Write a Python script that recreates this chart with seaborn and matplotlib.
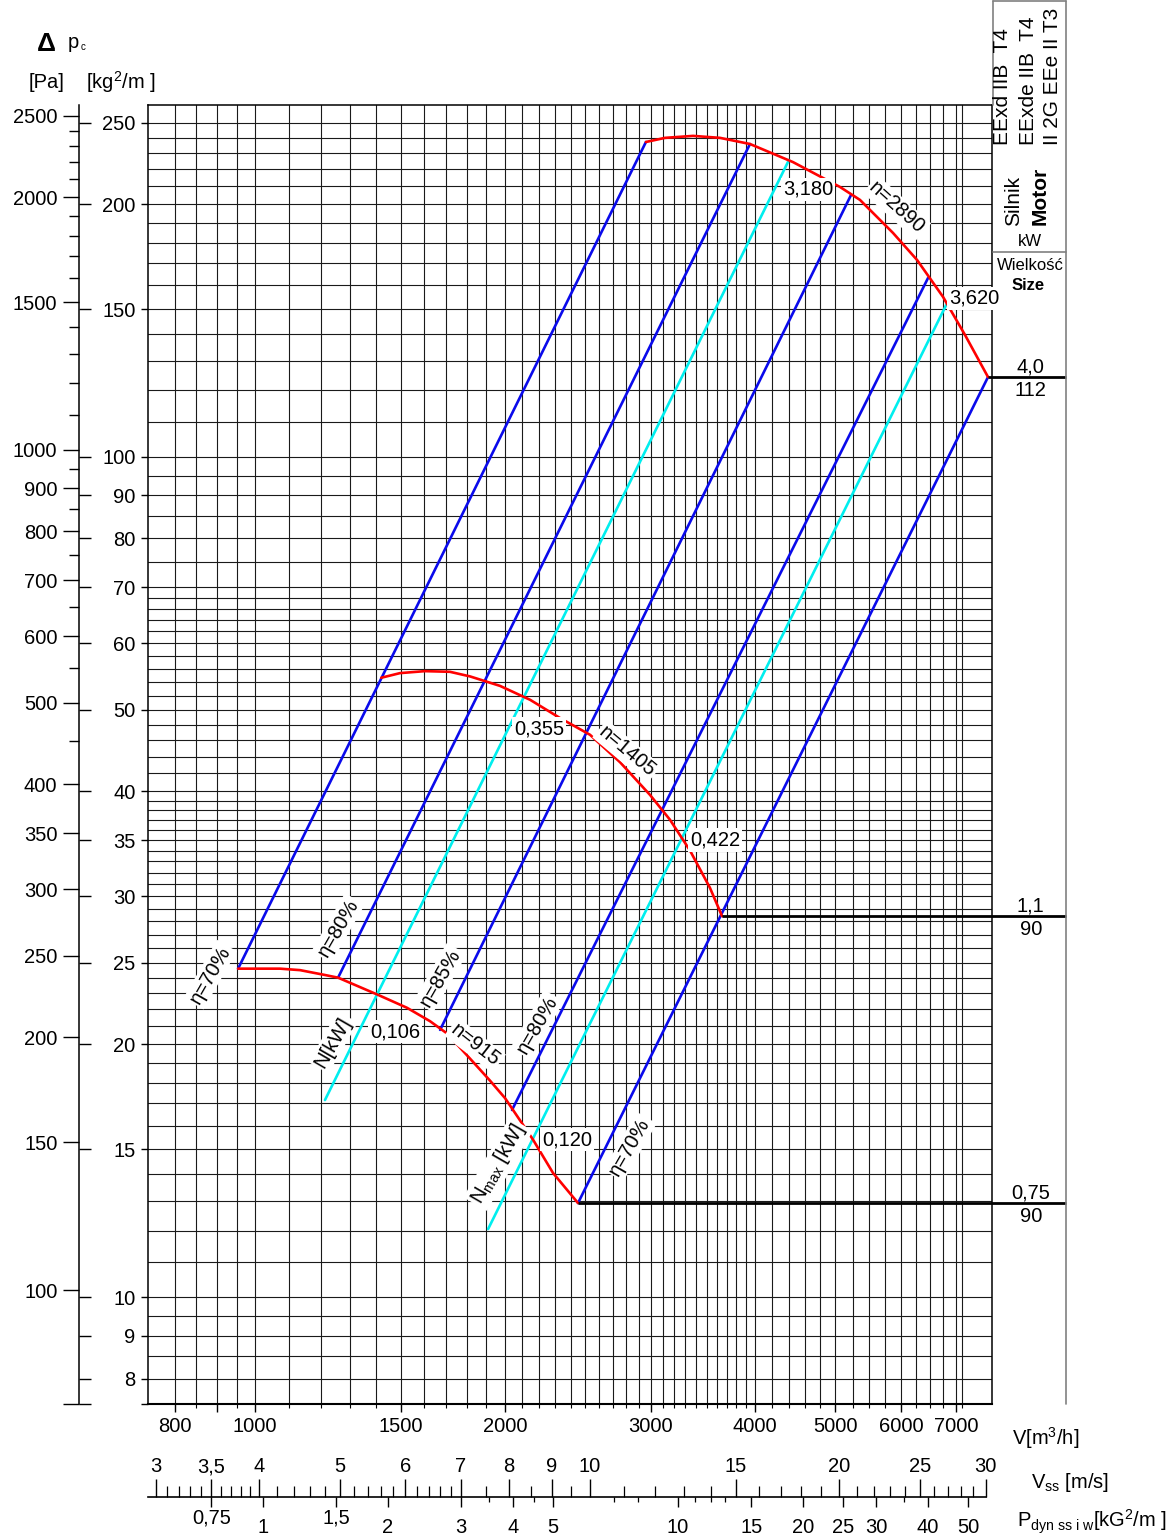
import matplotlib
matplotlib.use('Agg')
import matplotlib.pyplot as plt
import matplotlib.ticker as mticker
import matplotlib.transforms as mtransforms
from matplotlib.lines import Line2D
import seaborn as sns
import numpy as np

# fan curves: flow V [m3/h] vs pressure [kg/m2]
n915_v = [954, 1072, 1133, 1208, 1259, 1406, 1524, 1625, 1703, 1831, 1919, 2001, 2162, 2286, 2450]
n915_p = [24.6, 24.6, 24.5, 24.2, 24.0, 22.9, 22.1, 21.3, 20.6, 19.05, 18.1, 17.25, 15.4, 14.05, 12.94]
n1405_v = [1419, 1495, 1602, 1717, 1816, 1973, 2145, 2330, 2533, 2754, 2992, 3162, 3343, 3533, 3654]
n1405_p = [54.6, 55.3, 55.6, 55.5, 54.8, 53.4, 51.4, 48.9, 46.7, 43.3, 39.6, 37.0, 34.0, 30.7, 28.4]
n2890_v = [2958, 3119, 3371, 3633, 3948, 4448, 5068, 5357, 5871, 6276, 6745, 7170, 7642]
n2890_p = [237.1, 239.8, 241.1, 239.8, 235.8, 224.4, 209.6, 202.3, 184.8, 171.6, 155.1, 139.7, 124.5]

# efficiency lines (start / end points)
eta_v0 = [954, 1259, 1671, 2040, 2450]
eta_p0 = [24.6, 24.0, 20.8, 16.7, 12.94]
eta_v1 = [2958, 3948, 5225, 6470, 7642]
eta_p1 = [237.1, 235.8, 205.0, 163.3, 124.5]

# power lines N[kW], Nmax[kW]
pow_v0 = [1214, 1909]
pow_p0 = [17.16, 12.05]
pow_v1 = [4399, 6823]
pow_p1 = [225.7, 152.5]

# motors
motor_kw = ['4,0', '1,1', '0,75']
motor_size = ['112', '90', '90']
motor_v = [7642, 3654, 2450]
motor_p = [124.5, 28.4, 12.94]

# labels on the chart
ann_text = ['3,180', 'n=2890', '3,620', '0,355', 'n=1405', '0,422', 'η=70%', 'η=80%',
            'N[kW]', '0,106', 'η=85%', 'n=915', 'η=80%', '0,120', r'N$_{\rm max}$ [kW]', 'η=70%']
ann_v = [4638, 5935, 7349, 2199, 2807, 3583, 883, 1259, 1242, 1475, 1671, 1841, 2187, 2376, 1963, 2830]
ann_p = [208.4, 197.9, 154.6, 47.5, 44.6, 35.0, 24.2, 27.5, 20.1, 20.7, 24.0, 19.95, 21.1, 15.4, 14.4, 15.1]
ann_rot = [0, -42, 0, 0, -40, 0, 60, 60, 60, 0, 60, -38, 60, 0, 60, 60]

# axes scales
v_major = [800, 900, 1000, 1500, 2000, 3000, 4000, 5000, 6000, 7000]
v_major_lbl = ['800', '', '1000', '1500', '2000', '3000', '4000', '5000', '6000', '7000']
v_grid = ([800, 850, 900, 950] + list(range(1000, 4001, 100)) + [4200, 4400, 4600, 4800]
          + [5000, 5250, 5500, 5750, 6000, 6250, 6500, 6750, 7000, 7100])
kg_major = [8, 9, 10, 15, 20, 25, 30, 35, 40, 50, 60, 70, 80, 90, 100, 150, 200, 250]
kg_grid = ([8, 8.5, 9, 9.5] + list(range(10, 41)) + list(range(42, 71, 2))
           + [75, 80, 85, 90, 95] + list(range(100, 251, 10)))
pa_major = [100, 150, 200, 250, 300, 350, 400, 500, 600, 700, 800, 900, 1000, 1500, 2000, 2500]
pa_minor = [450, 550, 650, 750, 850, 950, 1100, 1200, 1300, 1400, 1600, 1700, 1800, 1900,
            2100, 2200, 2300, 2400]
PA_PER_KG = 9.81

vss_major = [3, 3.5, 4, 5, 6, 7, 8, 9, 10, 15, 20, 25, 30]
vss_lbl = ['3', '3,5', '4', '5', '6', '7', '8', '9', '10', '15', '20', '25', '30']
vss_minor = [3.1, 3.2, 3.3, 3.4, 3.6, 3.7, 3.8, 3.9, 4.2, 4.4, 4.6, 4.8, 5.2, 5.4, 5.6, 5.8,
             6.2, 6.4, 6.6, 6.8, 7.5, 8.5, 9.5, 11, 12, 13, 14, 16, 17, 18, 19, 21, 22, 23, 24,
             26, 27, 28, 29]
pd_major = [0.75, 1, 1.5, 2, 3, 4, 5, 10, 15, 20, 25, 30, 40, 50]
pd_lbl = ['0,75', '1', '1,5', '2', '3', '4', '5', '10', '15', '20', '25', '30', '40', '50']
pd_minor = [3.5, 4.5, 7, 8, 11, 12, 13, 35]
V_PER_MS = 253.0      # m3/h per m/s of outlet velocity
PD_PER_MS2 = 0.0612   # kG/m2 per (m/s)^2

sns.set_theme(style='ticks', rc={'text.color': 'black', 'axes.edgecolor': 'black',
                                 'xtick.color': 'black', 'ytick.color': 'black'})
plt.rcParams['font.family'] = ['Liberation Sans', 'DejaVu Sans']
plt.rcParams['mathtext.fontset'] = 'custom'
plt.rcParams['mathtext.rm'] = 'Liberation Sans'
plt.rcParams['mathtext.it'] = 'Liberation Sans:italic'
plt.rcParams['mathtext.bf'] = 'Liberation Sans:bold'

W, H = 1173, 1538
fig = plt.figure(figsize=(W / 100, H / 100), dpi=100)
fig.patch.set_facecolor('white')


def fx(px):
    return px / W


def fy(py):
    return 1 - py / H


xlim = (743, 7727)
ylim = (7.46, 262.4)
FS = 14.5
RED, BLUE, CYAN = '#ff0000', '#0a0aeb', '#00eeee'

ax = fig.add_axes([fx(148), fy(1404), fx(992) - fx(148), fy(105) - fy(1404)])
ax.set_xscale('log')
ax.set_yscale('log')

for v0, p0, v1, p1 in zip(eta_v0, eta_p0, eta_v1, eta_p1):
    sns.lineplot(x=[v0, v1], y=[p0, p1], ax=ax, color=BLUE, lw=1.9, sort=False, estimator=None, zorder=3)
for v0, p0, v1, p1 in zip(pow_v0, pow_p0, pow_v1, pow_p1):
    sns.lineplot(x=[v0, v1], y=[p0, p1], ax=ax, color=CYAN, lw=1.9, sort=False, estimator=None, zorder=3)
for vv, pp in [(n915_v, n915_p), (n1405_v, n1405_p), (n2890_v, n2890_p)]:
    sns.lineplot(x=vv, y=pp, ax=ax, color=RED, lw=1.9, sort=False, estimator=None, zorder=4)

ax.set_xlim(xlim)
ax.set_ylim(ylim)
ax.set_xlabel('')
ax.set_ylabel('')

ax.set_xticks(v_major, labels=v_major_lbl)
ax.set_xticks([v for v in v_grid if v not in v_major], minor=True)
ax.set_yticks(kg_major + [ylim[0]], labels=[str(k) for k in kg_major] + [''])
ax.set_yticks([k for k in kg_grid if k not in kg_major], minor=True)
ax.xaxis.set_minor_formatter(mticker.NullFormatter())
ax.yaxis.set_minor_formatter(mticker.NullFormatter())
ax.tick_params(axis='x', which='major', length=6, width=1, pad=3, labelsize=FS, bottom=True)
ax.tick_params(axis='x', which='minor', length=3, width=0.8, bottom=True)
ax.tick_params(axis='y', which='major', length=5, width=1, pad=4, labelsize=FS, left=True)
ax.tick_params(axis='y', which='minor', length=0)
ax.grid(True, which='both', color='#1a1a1a', lw=0.8)
ax.set_axisbelow(True)
for s in ax.spines.values():
    s.set_linewidth(1.1)
ax.spines['bottom'].set_linewidth(1.5)

# chart labels
for t, v, p, r in zip(ann_text, ann_v, ann_p, ann_rot):
    ax.text(v, p, t, rotation=r, ha='center', va='center', fontsize=FS, zorder=6,
            bbox=dict(facecolor='white', edgecolor='none', pad=1.5))

# motor lines and labels
tr = ax.get_yaxis_transform()
for kw, size, v, p in zip(motor_kw, motor_size, motor_v, motor_p):
    x0 = ax.transAxes.inverted().transform(ax.transData.transform((v, p)))[0]
    ax.plot([x0, 1.0877], [p, p], transform=tr, color='black', lw=2, clip_on=False,
            solid_capstyle='butt', zorder=5)
    ax.text(1.046, p, kw, transform=tr + mtransforms.ScaledTranslation(0, 0.05, fig.dpi_scale_trans),
            ha='center', va='baseline', fontsize=FS)
    ax.text(1.046, p, size, transform=tr + mtransforms.ScaledTranslation(0, -0.04, fig.dpi_scale_trans),
            ha='center', va='top', fontsize=FS)

# left pressure scales
rect_l = [fx(79), fy(1404), 0.00001, fy(105) - fy(1404)]
ax_pa = fig.add_axes(rect_l, label='pa')
ax_kg = fig.add_axes(rect_l, label='kg')
for a in (ax_pa, ax_kg):
    a.set_yscale('log')
    a.set_ylim(ylim)
    a.set_xticks([])
    a.patch.set_visible(False)
    for s in ['top', 'bottom', 'right', 'left']:
        a.spines[s].set_visible(False)
ax_pa.spines['left'].set_visible(True)
ax_pa.spines['left'].set_linewidth(1.1)
ax_pa.set_yticks([p / PA_PER_KG for p in pa_major] + [ylim[0]], labels=[str(p) for p in pa_major] + [''])
ax_pa.set_yticks([p / PA_PER_KG for p in pa_minor], minor=True)
ax_pa.yaxis.set_minor_formatter(mticker.NullFormatter())
ax_pa.tick_params(axis='y', which='major', left=True, length=11.5, width=1, pad=4, labelsize=FS)
ax_pa.tick_params(axis='y', which='minor', left=True, length=7, width=1)
ax_kg.yaxis.tick_right()
ax_kg.set_yticks(kg_major + [ylim[0]])
ax_kg.yaxis.set_minor_locator(mticker.NullLocator())
ax_kg.tick_params(axis='y', which='major', right=True, left=False, labelright=False, labelleft=False,
                  length=8.6, width=1)

# bottom velocity / dynamic pressure scales
rect_b = [fx(148), fy(1497), fx(992) - fx(148), 0.00001]
ax_vs = fig.add_axes(rect_b, label='vss')
ax_pd = fig.add_axes(rect_b, label='pdyn')
for a in (ax_vs, ax_pd):
    a.set_xscale('log')
    a.set_xlim(xlim)
    a.set_yticks([])
    a.patch.set_visible(False)
    for s in ['top', 'bottom', 'right', 'left']:
        a.spines[s].set_visible(False)
ax_vs.spines['top'].set_visible(True)
ax_vs.spines['top'].set_bounds(xlim[0], 30 * V_PER_MS)
ax_vs.spines['top'].set_linewidth(1.2)
ax_vs.xaxis.tick_top()
ax_vs.set_xticks([v * V_PER_MS for v in vss_major], labels=vss_lbl)
ax_vs.set_xticks([v * V_PER_MS for v in vss_minor], minor=True)
ax_vs.xaxis.set_minor_formatter(mticker.NullFormatter())
ax_vs.tick_params(axis='x', which='major', top=True, bottom=False, labeltop=True, labelbottom=False,
                  length=13, width=1, pad=2, labelsize=FS)
ax_vs.tick_params(axis='x', which='minor', top=True, bottom=False, length=8, width=0.9)

ax_pd.set_xticks([V_PER_MS * np.sqrt(p / PD_PER_MS2) for p in pd_major], labels=pd_lbl)
ax_pd.set_xticks([V_PER_MS * np.sqrt(p / PD_PER_MS2) for p in pd_minor], minor=True)
ax_pd.xaxis.set_minor_formatter(mticker.NullFormatter())
ax_pd.tick_params(axis='x', which='major', bottom=True, top=False, labelbottom=True, labeltop=False,
                  length=7.2, width=1, pad=8, labelsize=FS)
ax_pd.tick_params(axis='x', which='minor', bottom=True, top=False, length=3.6, width=0.9)
for lab in ax_pd.get_xticklabels():
    if ',' in lab.get_text():
        lab.set_transform(lab.get_transform() + mtransforms.ScaledTranslation(0, 0.1, fig.dpi_scale_trans))

# axis titles
fig.text(fx(46), fy(44), 'Δ', fontsize=19, fontweight='bold', ha='center', va='center')
fig.text(fx(73), fy(43), 'p', fontsize=FS, ha='center', va='center')
fig.text(fx(83), fy(47), 'c', fontsize=7, ha='center', va='center')
fig.text(fx(47), fy(82), '[Pa]', fontsize=FS, ha='center', va='center')
fig.text(fx(121), fy(82), '[kg$^{2}$/m ]', fontsize=FS, ha='center', va='center')
fig.text(fx(1046), fy(1438), 'V[m$^{3}$/h]', fontsize=FS, ha='center', va='center')
fig.text(fx(1070), fy(1483), r'V$_{\rm ss}$ [m/s]', fontsize=FS, ha='center', va='center')
fig.text(fx(1092), fy(1522), r'P$_{\rm dyn\ ss\ i\ w}$[kG$^{2}$/m ]', fontsize=FS, ha='center', va='center')

# motor table frame
frame = [([993, 993], [1, 105]), ([993, 1066], [1, 1]), ([1066, 1066], [1, 1404]),
         ([993, 1066], [252, 252])]
for xs, ys in frame:
    fig.add_artist(Line2D([fx(x) for x in xs], [fy(y) for y in ys], color='#808080', lw=1.2))
for x, t in [(1003, 'EExd IIB  T4'), (1028, 'EExde IIB  T4'), (1053, 'II 2G EEe II T3')]:
    fig.text(fx(x), fy(145), t, rotation=90, fontsize=15, ha='center', va='bottom')
fig.text(fx(1014), fy(201), 'Silnik', rotation=90, fontsize=15, ha='center', va='center')
fig.text(fx(1040), fy(196), 'Motor', rotation=90, fontsize=15, fontweight='bold', ha='center', va='center')
fig.text(fx(1030), fy(242), 'kW', fontsize=12, ha='center', va='center')
fig.text(fx(1030), fy(265), 'Wielkość', fontsize=12, ha='center', va='center')
fig.text(fx(1028), fy(285), 'Size', fontsize=12, fontweight='bold', ha='center', va='center')

fig.savefig('out.png', dpi=100)
